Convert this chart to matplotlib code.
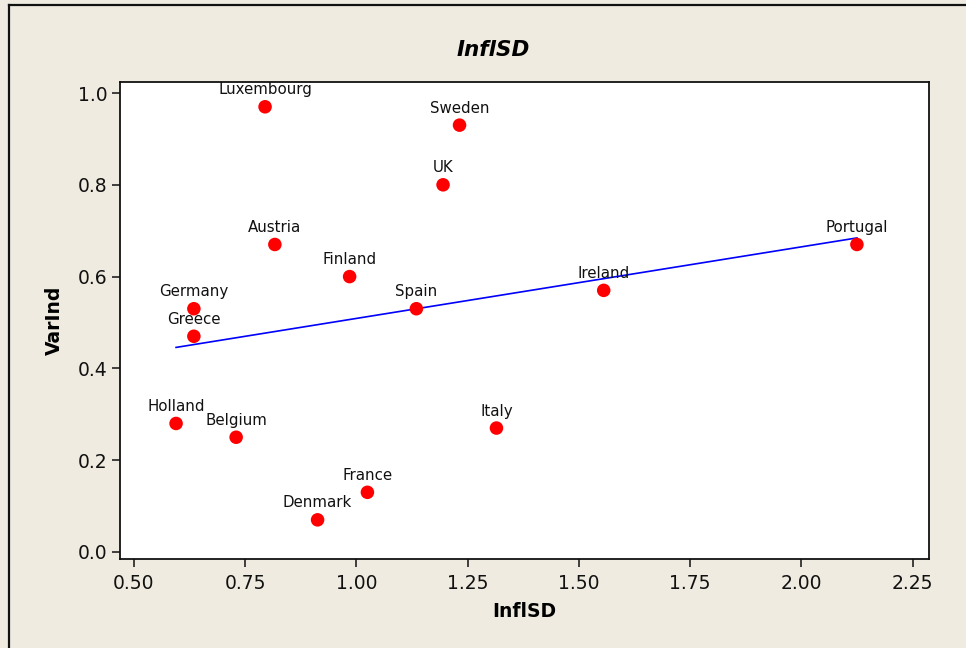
import numpy as np
import matplotlib
matplotlib.use("Agg")
import matplotlib.pyplot as plt
from matplotlib.lines import Line2D

# Country data: inflation standard deviation vs. variance index
countries = ["Luxembourg", "Sweden", "UK", "Austria", "Finland", "Spain", "Ireland",
             "Portugal", "Germany", "Greece", "Holland", "Belgium", "Italy",
             "France", "Denmark"]
infl_sd = [0.795, 1.232, 1.195, 0.817, 0.985, 1.135, 1.556, 2.125, 0.635, 0.635,
           0.595, 0.73, 1.315, 1.025, 0.913]
var_ind = [0.97, 0.93, 0.80, 0.67, 0.60, 0.53, 0.57, 0.67, 0.53, 0.47, 0.28,
           0.25, 0.27, 0.13, 0.07]

x_ticks = [0.50, 0.75, 1.00, 1.25, 1.50, 1.75, 2.00, 2.25]
y_ticks = [0.0, 0.2, 0.4, 0.6, 0.8, 1.0]

bg = "#EFEBE0"
plt.rcParams["font.family"] = ["DejaVu Sans"]

fig = plt.figure(figsize=(9.66, 6.48), dpi=100, facecolor=bg)
ax = fig.add_axes([120 / 966, 1 - 559 / 648, (929 - 120) / 966, (559 - 82) / 648])
ax.set_facecolor("white")

x = np.array(infl_sd)
y = np.array(var_ind)

# least-squares fit line across the data range
slope, intercept = np.polyfit(x, y, 1)
xs = np.array([x.min(), x.max()])
ax.plot(xs, slope * xs + intercept, color="#0000FF", lw=1.2, zorder=2)

ax.scatter(x, y, s=95, color="#FF0000", edgecolors="none", zorder=3)

for name, xi, yi in zip(countries, infl_sd, var_ind):
    ax.annotate(name, (xi, yi), xytext=(0, 9), textcoords="offset points",
                ha="center", va="baseline", fontsize=10.8, color="#111111",
                zorder=4)

ax.set_xlim(0.469, 2.287)
ax.set_ylim(-0.0153, 1.024)
ax.set_xticks(x_ticks)
ax.set_xticklabels([f"{t:.2f}" for t in x_ticks])
ax.set_yticks(y_ticks)
ax.set_yticklabels([f"{t:.1f}" for t in y_ticks])

for sp in ax.spines.values():
    sp.set_linewidth(1.3)
    sp.set_color("#111111")

ax.tick_params(axis="both", direction="out", length=6, width=1.1,
               color="#111111", labelsize=13.5, labelcolor="#111111")
ax.tick_params(axis="x", pad=5)
ax.tick_params(axis="y", pad=3)

ax.set_xlabel("InflSD", fontsize=13.5, fontweight="bold", labelpad=6)
ax.set_ylabel("VarInd", fontsize=13.5, fontweight="bold", labelpad=10)

fig.text(493 / 966, 1 - 50 / 648, "InflSD", ha="center", va="center",
         fontsize=15.5, fontweight="bold", fontstyle="italic")

# window frame edges along top and left
fig.add_artist(Line2D([9 / 966, 1], [1 - 5 / 648, 1 - 5 / 648],
                      transform=fig.transFigure, color="#111111", lw=1.6))
fig.add_artist(Line2D([9 / 966, 9 / 966], [0, 1 - 5 / 648],
                      transform=fig.transFigure, color="#111111", lw=1.6))

fig.savefig("out.png", dpi=100, facecolor=bg)
